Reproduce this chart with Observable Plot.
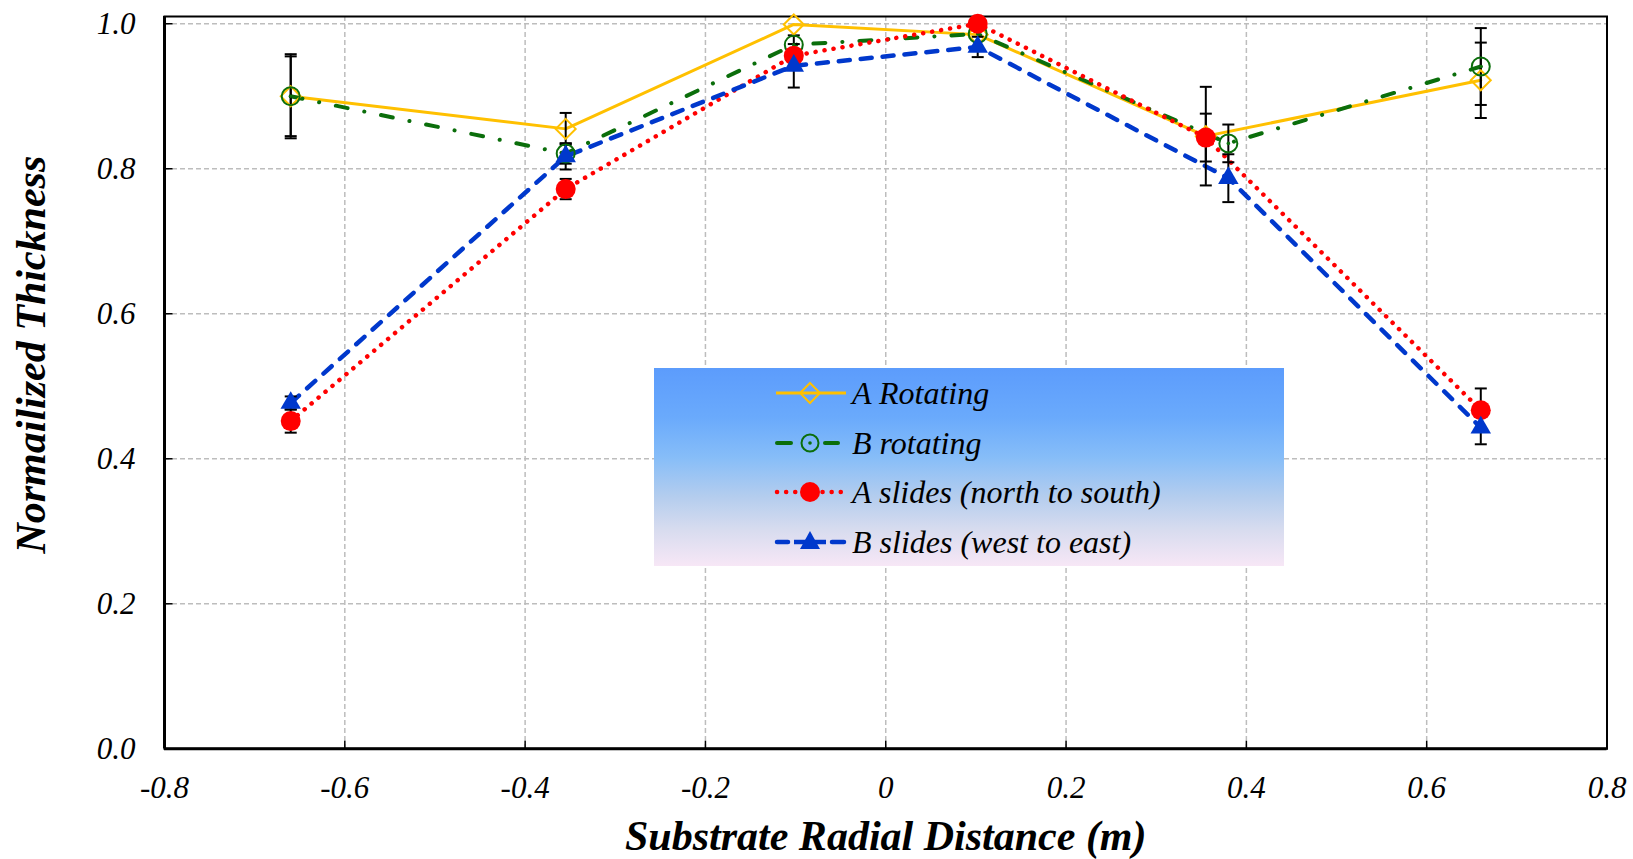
<!DOCTYPE html>
<html><head><meta charset="utf-8">
<script src="https://cdn.jsdelivr.net/npm/d3@7"></script>
<script src="https://cdn.jsdelivr.net/npm/@observablehq/plot@0.6"></script>
<style>
body{margin:0;background:#fff;}
#wrap{position:relative;width:1633px;height:859px;}
#legend{position:absolute;left:654px;top:368px;width:630px;height:198px;
 background:linear-gradient(to bottom,#5c9cfc 0%,#6aaafc 25%,#86bdf8 45%,#b4cdee 65%,#d8dcef 82%,#f7e7f6 100%);
 font-family:"Liberation Serif";font-style:italic;font-size:32px;color:#000;}
.row{position:absolute;left:0;width:630px;height:40px;}
.row svg{position:absolute;left:120px;top:5px;}
.row span{position:absolute;left:198px;top:0;line-height:40px;white-space:nowrap;}
</style></head>
<body><div id="wrap"><div id="chart"></div><div id="legend"></div></div>
<script>
// ---- data ----
const seriesNames = ["A Rotating", "B rotating", "A slides (north to south)", "B slides (west to east)"];
const xA = [-0.66, -0.355, -0.102, 0.102, 0.355, 0.66];
const xB = [-0.66, -0.355, -0.102, 0.102, 0.38, 0.66];
const aRotY   = [0.900, 0.855, 0.999, 0.985, 0.845, 0.922];
const aRotErr = [0.055, 0.022, 0, 0, 0.068, 0.052];
const bRotY   = [0.900, 0.821, 0.971, 0.986, 0.835, 0.941];
const bRotErr = [0.058, 0.014, 0.013, 0, 0.026, 0.053];
const aSlY    = [0.452, 0.772, 0.956, 1.000, 0.843, 0.467];
const aSlErr  = [0.016, 0.014, 0, 0, 0.033, 0.030];
const bSlY    = [0.477, 0.817, 0.942, 0.968, 0.787, 0.443];
const bSlErr  = [0.009, 0.018, 0.030, 0.014, 0.033, 0.023];
const xTicks = [-0.8, -0.6, -0.4, -0.2, 0, 0.2, 0.4, 0.6, 0.8];
const xTickLabels = ["-0.8", "-0.6", "-0.4", "-0.2", "0", "0.2", "0.4", "0.6", "0.8"];
const yTicks = [0, 0.2, 0.4, 0.6, 0.8, 1.0];
const yTickLabels = ["0.0", "0.2", "0.4", "0.6", "0.8", "1.0"];
const xTitle = "Substrate Radial Distance (m)";
const yTitle = "Normailized Thickness";

// ---- styles ----
const C = {aRot: "#ffc000", bRot: "#0b6e0b", aSl: "#ff0000", bSl: "#0038cc"};

const mk = (xs, ys, es) => xs.map((x, i) => ({x, y: ys[i], e: es[i]}));
const aRot = mk(xA, aRotY, aRotErr);
const bRot = mk(xB, bRotY, bRotErr);
const aSl = mk(xA, aSlY, aSlErr);
const bSl = mk(xB, bSlY, bSlErr);
const errs = [...aRot, ...bRot, ...aSl, ...bSl].filter(d => d.e > 0);

const tickUp = {draw(ctx){ctx.moveTo(0,0);ctx.lineTo(0,-8);}};
const tickRight = {draw(ctx){ctx.moveTo(0,0);ctx.lineTo(8,0);}};
const cap = {draw(ctx){ctx.moveTo(-6,0);ctx.lineTo(6,0);}};

const chart = Plot.plot({
  width: 1633, height: 859,
  marginLeft: 164, marginRight: 26.5, marginTop: 16, marginBottom: 110.7,
  style: {fontFamily: "Liberation Serif", fontStyle: "italic", fontSize: "30px", color: "black", background: "white"},
  x: {domain: [-0.8, 0.8]},
  y: {domain: [0, 1.01]},
  marks: [
    Plot.gridX(xTicks, {stroke: "#bdbdbd", strokeOpacity: 1, strokeWidth: 1.5, strokeDasharray: "5,3"}),
    Plot.gridY(yTicks, {stroke: "#bdbdbd", strokeOpacity: 1, strokeWidth: 1.5, strokeDasharray: "5,3"}),
    Plot.axisX(xTicks, {tickSize: 0, tickPadding: 27, fontSize: 31, label: null,
      tickFormat: d => xTickLabels[xTicks.indexOf(d)]}),
    Plot.axisY(yTicks, {tickSize: 0, tickPadding: 29, fontSize: 31, label: null,
      tickFormat: d => yTickLabels[yTicks.indexOf(d)]}),
    Plot.dot(xTicks, {x: d => d, y: 0, symbol: tickUp, stroke: "black", strokeWidth: 1.5, fill: "none"}),
    Plot.dot(yTicks, {x: -0.8, y: d => d, symbol: tickRight, stroke: "black", strokeWidth: 1.5, fill: "none"}),
    Plot.frame({stroke: "black", strokeWidth: 2}),
    Plot.ruleX([-0.8], {stroke: "black", strokeWidth: 3}),
    Plot.ruleY([0], {stroke: "black", strokeWidth: 3}),
    // lines
    Plot.line(aRot, {x: "x", y: "y", stroke: C.aRot, strokeWidth: 3}),
    Plot.line(bRot, {x: "x", y: "y", stroke: C.bRot, strokeWidth: 4, strokeLinecap: "round", strokeDasharray: "12,17,0.1,17"}),
    Plot.line(aSl, {x: "x", y: "y", stroke: C.aSl, strokeWidth: 4.5, strokeLinecap: "round", strokeDasharray: "0.1,9"}),
    Plot.line(bSl, {x: "x", y: "y", stroke: C.bSl, strokeWidth: 4.5, strokeLinecap: "round", strokeDasharray: "11,11"}),
    // error bars
    Plot.ruleX(errs, {x: "x", y1: d => d.y - d.e, y2: d => d.y + d.e, stroke: "black", strokeWidth: 2}),
    Plot.dot(errs, {x: "x", y: d => d.y - d.e, symbol: cap, stroke: "black", strokeWidth: 2, fill: "none"}),
    Plot.dot(errs, {x: "x", y: d => d.y + d.e, symbol: cap, stroke: "black", strokeWidth: 2, fill: "none"}),
    // markers
    Plot.dot(aRot, {x: "x", y: "y", symbol: "diamond2", r: 9, fill: "none", stroke: C.aRot, strokeWidth: 2}),
    Plot.dot(bRot, {x: "x", y: "y", symbol: "circle", r: 9, fill: "none", stroke: C.bRot, strokeWidth: 2}),
    Plot.dot(bRot, {x: "x", y: "y", symbol: "circle", r: 1.8, fill: C.bRot, stroke: "none"}),
    Plot.dot(aSl, {x: "x", y: "y", symbol: "circle", r: 10, fill: C.aSl, stroke: "none"}),
    Plot.dot(bSl, {x: "x", y: "y", symbol: "triangle", r: 7.6, fill: C.bSl, stroke: "none"}),
    // titles
    Plot.text([xTitle], {text: d => d, frameAnchor: "bottom", lineAnchor: "middle", textAnchor: "middle", dy: 88,
      fontSize: 42, fontWeight: "bold", fontStyle: "italic", fill: "black"}),
    Plot.text([yTitle], {text: d => d, frameAnchor: "left", lineAnchor: "middle", textAnchor: "middle", dx: -133, dy: -28, rotate: -90,
      fontSize: 42, fontWeight: "bold", fontStyle: "italic", fill: "black"})
  ]
});
document.getElementById("chart").appendChild(chart);

// ---- legend ----
const swatches = [
  `<line x1="2" y1="15" x2="72" y2="15" stroke="${C.aRot}" stroke-width="3"/>
   <path d="M36,5 L46,15 L36,25 L26,15 Z" fill="none" stroke="${C.aRot}" stroke-width="2"/>`,
  `<line x1="3" y1="15" x2="17" y2="15" stroke="${C.bRot}" stroke-width="4" stroke-linecap="round"/>
   <line x1="51" y1="15" x2="64" y2="15" stroke="${C.bRot}" stroke-width="4" stroke-linecap="round"/>
   <circle cx="36" cy="15" r="8.5" fill="none" stroke="${C.bRot}" stroke-width="2"/>
   <circle cx="36" cy="15" r="1.8" fill="${C.bRot}"/>`,
  `<line x1="3" y1="15" x2="72" y2="15" stroke="${C.aSl}" stroke-width="4.5" stroke-linecap="round" stroke-dasharray="0.1,9"/>
   <circle cx="36" cy="15" r="10" fill="${C.aSl}"/>`,
  `<line x1="3" y1="15" x2="14" y2="15" stroke="${C.bSl}" stroke-width="4.5" stroke-linecap="round"/>
   <line x1="58" y1="15" x2="70" y2="15" stroke="${C.bSl}" stroke-width="4.5" stroke-linecap="round"/>
   <line x1="20" y1="15" x2="52" y2="15" stroke="${C.bSl}" stroke-width="4.5"/>
   <path d="M36,4 L46,22 L26,22 Z" fill="${C.bSl}"/>`
];
const rowCenters = [25, 75, 124, 174];
const leg = document.getElementById("legend");
seriesNames.forEach((name, i) => {
  const row = document.createElement("div");
  row.className = "row";
  row.style.top = (rowCenters[i] - 20) + "px";
  row.innerHTML = `<svg width="76" height="30">${swatches[i]}</svg><span>${name}</span>`;
  leg.appendChild(row);
});
</script>
</body></html>
